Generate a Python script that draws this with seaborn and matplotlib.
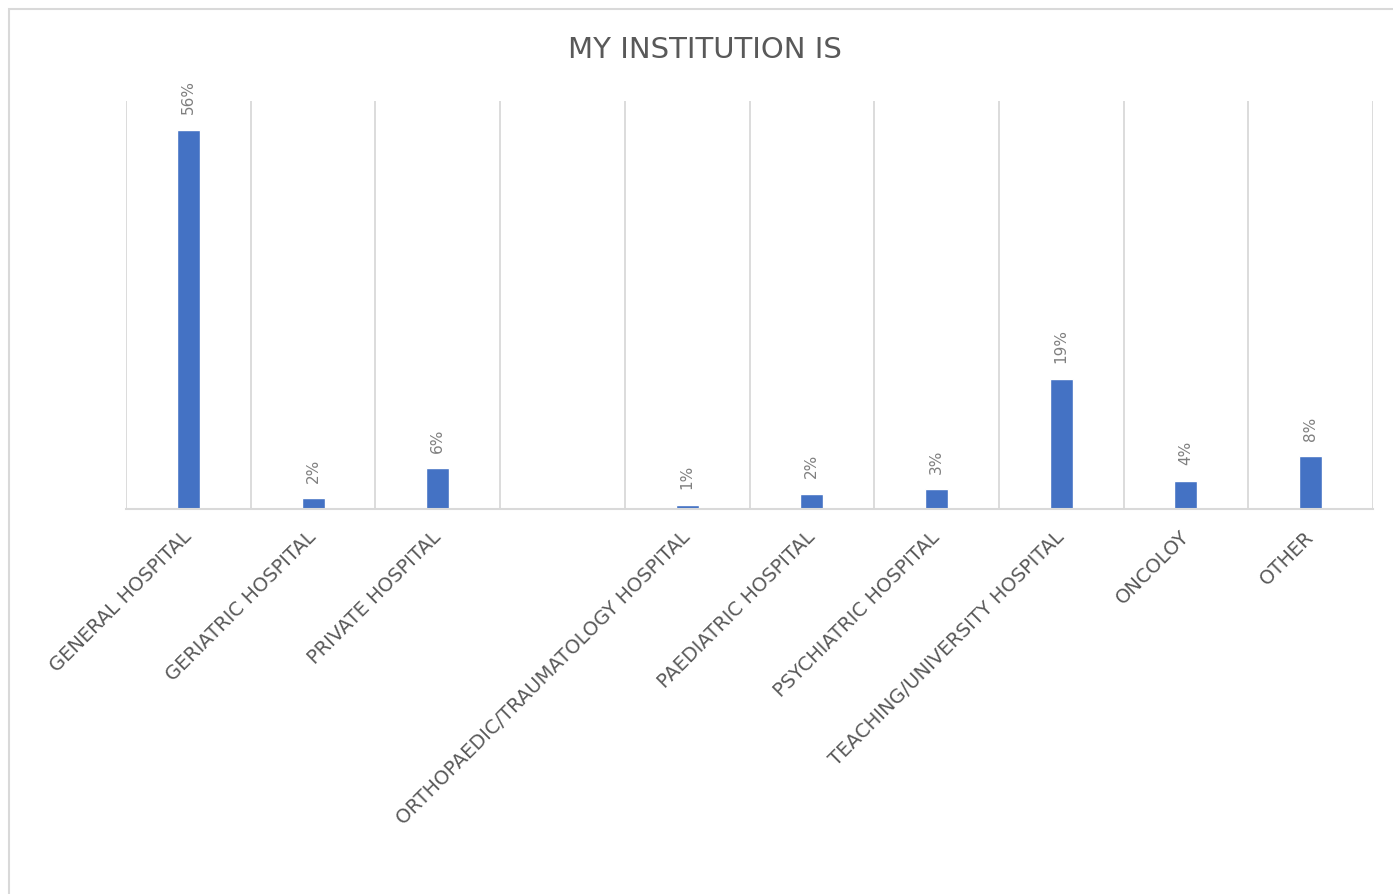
import numpy as np
import pandas as pd
import matplotlib
matplotlib.use("Agg")
import matplotlib.pyplot as plt
from matplotlib.patches import Rectangle
from matplotlib.transforms import ScaledTranslation
import seaborn as sns

# Survey responses: type of institution (share of respondents, %)
categories = [
    "GENERAL HOSPITAL",
    "GERIATRIC HOSPITAL",
    "PRIVATE HOSPITAL",
    "",
    "ORTHOPAEDIC/TRAUMATOLOGY HOSPITAL",
    "PAEDIATRIC HOSPITAL",
    "PSYCHIATRIC HOSPITAL",
    "TEACHING/UNIVERSITY HOSPITAL",
    "ONCOLOY",
    "OTHER",
]
shares = [56.0, 1.6, 6.0, np.nan, 0.6, 2.2, 2.9, 19.2, 4.2, 7.8]
title = "MY INSTITUTION IS"

df = pd.DataFrame({"category": categories, "share": shares})

sns.set_theme(style="white")
plt.rcParams["font.family"] = ["DejaVu Sans"]

W, H = 1393, 895
fig = plt.figure(figsize=(W / 100, H / 100), dpi=100)
ax = fig.add_axes([126 / W, 1 - 510 / H, (1373 - 126) / W, (510 - 102) / H])

sns.barplot(data=df, x="category", y="share", order=categories,
            color="#4472C4", saturation=1, width=0.185, ax=ax)

ax.set_xlim(-0.5, len(categories) - 0.5)
ax.set_ylim(0, 60.3)

# vertical gridlines between categories
ax.set_xticks(np.arange(-0.5, len(categories), 1), minor=True)
ax.grid(False)
ax.grid(which="minor", axis="x", color="#d9d9d9", linewidth=1.3)
ax.tick_params(which="both", length=0)

for side in ["top", "right", "left"]:
    ax.spines[side].set_visible(False)
ax.spines["bottom"].set_color("#d9d9d9")
ax.spines["bottom"].set_linewidth(1.5)

ax.set_yticks([])
ax.set_xlabel("")
ax.set_ylabel("")

ax.set_xticks(range(len(categories)))
ax.set_xticklabels(categories, rotation=45, ha="right", va="top",
                   rotation_mode="anchor", fontsize=14, color="#595959")
shift = ScaledTranslation(-4.5 / 72, -9 / 72, fig.dpi_scale_trans)
for lbl in ax.get_xticklabels():
    lbl.set_transform(lbl.get_transform() + shift)

# value labels above bars
for i, v in enumerate(shares):
    if np.isnan(v):
        continue
    ax.annotate(f"{v:.0f}%", xy=(i, v), xytext=(0, 12), textcoords="offset points",
                rotation=90, ha="center", va="bottom", fontsize=11, color="#7f7f7f")

fig.text(0.506, 1 - 50 / H, title, ha="center", va="center",
         fontsize=21, color="#595959")

# chart border
fig.patches.append(Rectangle((8.5 / W, -0.05), 1.2, 1 - 9.5 / H + 0.05,
                             transform=fig.transFigure, fill=False,
                             edgecolor="#d9d9d9", linewidth=1.5))

fig.savefig("out.png", dpi=100, facecolor="white")
